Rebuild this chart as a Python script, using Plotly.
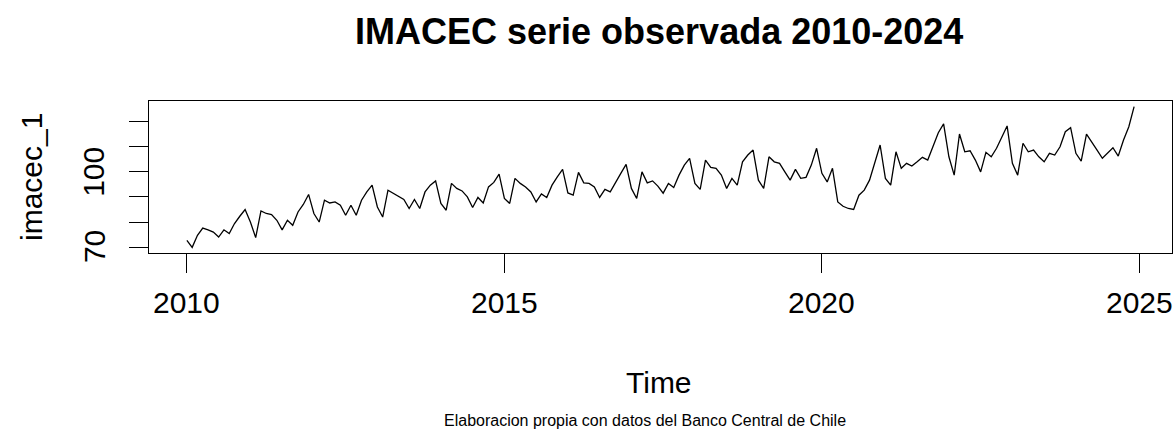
import numpy as np
import plotly.graph_objects as go

# Monthly IMACEC index, January 2010 - December 2024
start_year = 2010
frequency = 12
imacec_1 = [
    72.7, 69.9, 74.7, 77.6, 76.9, 76.0, 74.0, 76.9, 75.4, 79.4, 82.3, 85.0,   # 2010
    80.0, 73.8, 84.4, 83.4, 83.0, 80.7, 76.9, 80.7, 78.7, 84.0, 87.0, 91.0,   # 2011
    83.4, 80.0, 88.7, 87.6, 88.0, 86.7, 82.7, 86.7, 82.7, 88.7, 92.0, 94.7,   # 2012
    86.0, 82.0, 92.7, 91.4, 90.0, 89.0, 85.4, 89.0, 85.4, 92.0, 94.7, 96.4,   # 2013
    87.4, 84.7, 95.4, 93.4, 92.4, 90.0, 85.8, 89.8, 87.6, 94.0, 95.8, 99.1,   # 2014
    89.4, 87.4, 97.4, 95.4, 94.0, 92.0, 88.0, 91.2, 89.8, 94.7, 98.0, 101.0,  # 2015
    91.6, 90.7, 99.8, 95.6, 95.4, 94.0, 89.8, 93.0, 92.0, 96.0, 99.4, 103.0,  # 2016
    93.4, 89.4, 100.0, 95.6, 96.4, 94.3, 91.5, 95.4, 93.8, 98.7, 102.7, 105.4,  # 2017
    95.4, 93.0, 104.7, 101.8, 101.4, 98.7, 93.4, 97.4, 94.7, 104.0, 106.7, 108.7,  # 2018
    96.7, 93.4, 106.0, 104.0, 103.4, 100.0, 96.7, 101.0, 97.4, 97.8, 102.7, 109.4,  # 2019
    99.4, 96.0, 101.4, 88.0, 86.3, 85.4, 85.0, 90.7, 92.7, 96.7, 103.4, 110.7,  # 2020
    97.4, 94.7, 108.0, 101.4, 103.4, 102.3, 104.0, 105.8, 104.7, 110.3, 115.6, 119.1,  # 2021
    106.0, 98.7, 115.1, 108.0, 108.4, 104.7, 100.0, 107.8, 106.0, 109.4, 114.0, 118.3,  # 2022
    103.4, 98.7, 111.4, 108.0, 108.7, 106.0, 104.0, 107.4, 106.7, 110.0, 116.0, 117.6,  # 2023
    107.4, 104.3, 115.0, 112.0, 108.7, 105.4, 107.4, 109.6, 106.3, 112.7, 118.0, 126.0,  # 2024
]

x_ticks = [2010, 2015, 2020, 2025]
y_ticks = [70, 80, 90, 100, 110, 120]
y_tick_labels = ["70", "", "", "100", "", ""]

title_text = "IMACEC serie observada 2010-2024"
x_title = "Time"
y_title = "imacec_1"
caption = "Elaboracion propia con datos del Banco Central de Chile"

# time index of the monthly series
t = start_year + np.arange(len(imacec_1)) / frequency
y = np.array(imacec_1)

# axis limits padded by 4% on each side
def padded(lo, hi, frac=0.04):
    d = (hi - lo) * frac
    return [lo - d, hi + d]

x_range = padded(t.min(), t.max())
y_range = padded(y.min(), y.max())

FONT = "Liberation Sans, Arial, sans-serif"

fig = go.Figure()
fig.add_trace(go.Scatter(
    x=t, y=y, mode="lines",
    line=dict(color="black", width=1.3),
    hoverinfo="skip", showlegend=False,
))

axis_common = dict(
    showline=True, linecolor="black", linewidth=1, mirror=True,
    ticks="outside", ticklen=19, tickwidth=1, tickcolor="black",
    showgrid=False, zeroline=False,
)

fig.update_layout(
    width=1173, height=430,
    margin=dict(l=149, r=1, t=101, b=177),
    paper_bgcolor="white", plot_bgcolor="white",
    font=dict(family=FONT, color="black"),
    xaxis=dict(range=x_range, tickvals=x_ticks, showticklabels=False, **axis_common),
    yaxis=dict(range=y_range, tickvals=y_ticks, showticklabels=False, **axis_common),
)

annotations = []
# x tick labels
for v in x_ticks:
    annotations.append(dict(
        x=v, y=0, xref="x", yref="paper", text=str(v), showarrow=False,
        xanchor="center", yanchor="middle", yshift=-49,
        font=dict(size=30, family=FONT, color="black"),
    ))
# y tick labels (rotated, parallel to the axis)
for v, lab in zip(y_ticks, y_tick_labels):
    if not lab:
        continue
    annotations.append(dict(
        x=0, y=v, xref="paper", yref="y", text=lab, showarrow=False,
        textangle=-90, xanchor="center", yanchor="middle", xshift=-55,
        font=dict(size=30, family=FONT, color="black"),
    ))
# axis titles
annotations.append(dict(
    x=0.5, y=0, xref="paper", yref="paper", text=x_title, showarrow=False,
    xanchor="center", yanchor="middle", xshift=-2, yshift=-129,
    font=dict(size=30, family=FONT, color="black"),
))
annotations.append(dict(
    x=0, y=0.5, xref="paper", yref="paper", text=y_title, showarrow=False,
    textangle=-90, xanchor="center", yanchor="middle", xshift=-118,
    font=dict(size=30, family=FONT, color="black"),
))
# main title
annotations.append(dict(
    x=0.5, y=1, xref="paper", yref="paper", text="<b>" + title_text + "</b>",
    showarrow=False, xanchor="center", yanchor="middle", xshift=-2, yshift=70,
    font=dict(size=36, family=FONT, color="black"),
))
# caption
annotations.append(dict(
    x=0.5, y=0, xref="paper", yref="paper", text=caption, showarrow=False,
    xanchor="center", yanchor="middle", xshift=-16, yshift=-167,
    font=dict(size=16, family=FONT, color="black"),
))
fig.update_layout(annotations=annotations)

fig.write_html("out.html")
